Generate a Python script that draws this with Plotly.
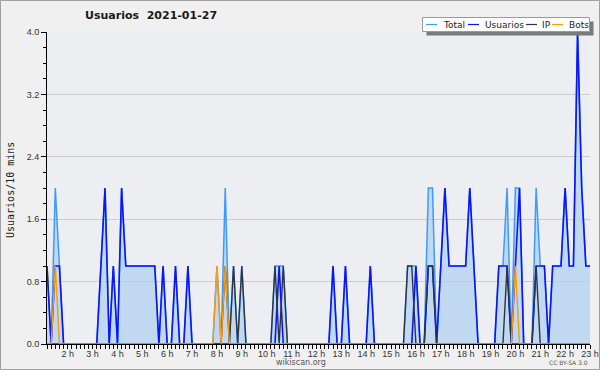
import plotly.graph_objects as go

# 10-minute bins from 01:10 to 23:00 (one row per hour)
start_hour = 1 + 10 / 60
n_bins = 132
hours = [start_hour + i / 6 for i in range(n_bins)]

usuarios = [
    1, 0, 1, 1, 0,          # 01:10-01:50
    0, 0, 0, 0, 0, 0,       # 2 h
    0, 0, 1, 2, 0, 1,       # 3 h
    0, 2, 1, 1, 1, 1,       # 4 h
    1, 1, 1, 1, 0, 1,       # 5 h
    0, 0, 1, 0, 0, 1,       # 6 h
    0, 0, 0, 0, 0, 0,       # 7 h
    0, 0, 0, 0, 0, 0,       # 8 h
    0, 0, 0, 0, 0, 0,       # 9 h
    0, 0, 0, 1, 0, 0,       # 10 h
    0, 0, 0, 0, 0, 0,       # 11 h
    0, 0, 0, 0, 1, 0,       # 12 h
    0, 1, 0, 0, 0, 0,       # 13 h
    0, 1, 0, 0, 0, 0,       # 14 h
    0, 0, 0, 0, 0, 0,       # 15 h
    1, 0, 0, 1, 1, 0,       # 16 h
    1, 2, 1, 1, 1, 1,       # 17 h
    1, 2, 1, 0, 0, 0,       # 18 h
    0, 0, 1, 1, 1, 0,       # 19 h
    1, 2, 0, 0, 0, 1,       # 20 h
    1, 1, 0, 1, 1, 1,       # 21 h
    2, 1, 1, 4, 2, 1,       # 22 h
    1,                      # 23:00
]

ip = [
    0, 0, 0, 0, 0,
    0, 0, 0, 0, 0, 0,
    0, 0, 0, 0, 0, 0,
    0, 0, 0, 0, 0, 0,
    0, 0, 0, 0, 0, 0,
    0, 0, 0, 0, 0, 0,
    0, 0, 0, 0, 0, 0,
    0, 0, 1, 0, 1, 0,       # 8 h
    1, 0, 0, 0, 0, 0,       # 9 h
    0, 0, 1, 0, 1, 0,       # 10 h
    0, 0, 0, 0, 0, 0,
    0, 0, 0, 0, 0, 0,
    0, 0, 0, 0, 0, 0,
    0, 0, 0, 0, 0, 0,
    0, 0, 0, 0, 1, 1,       # 15 h
    0, 0, 0, 1, 1, 0,       # 16 h
    0, 0, 0, 0, 0, 0,
    0, 0, 0, 0, 0, 0,
    0, 0, 0, 0, 1, 0,       # 19 h
    0, 0, 0, 0, 0, 1,       # 20 h
    0, 0, 0, 0, 0, 0,
    0, 0, 0, 0, 0, 0,
    0,
]

bots = [
    0, 0, 1, 0, 0,
    0, 0, 0, 0, 0, 0,
    0, 0, 0, 0, 0, 0,
    0, 0, 0, 0, 0, 0,
    0, 0, 0, 0, 0, 0,
    0, 0, 0, 0, 0, 0,
    0, 0, 0, 0, 0, 0,
    1, 0, 1, 0, 0, 0,       # 8 h
    0, 0, 0, 0, 0, 0,
    0, 0, 0, 0, 0, 0,
    0, 0, 0, 0, 0, 0,
    0, 0, 0, 0, 0, 0,
    0, 0, 0, 0, 0, 0,
    0, 0, 0, 0, 0, 0,
    0, 0, 0, 0, 0, 0,
    0, 0, 0, 0, 0, 0,
    0, 0, 0, 0, 0, 0,
    0, 0, 0, 0, 0, 0,
    0, 0, 0, 0, 0, 0,
    1, 0, 0, 0, 0, 0,       # 20 h
    0, 0, 0, 0, 0, 0,
    0, 0, 0, 0, 0, 0,
    0,
]

total = [u + p + b for u, p, b in zip(usuarios, ip, bots)]

hour_ticks = list(range(2, 24))
hour_labels = [f"{h} h" for h in hour_ticks]
y_ticks = [0.0, 0.8, 1.6, 2.4, 3.2, 4.0]

title_text = "Usuarios  2021-01-27"
y_title = "Usuarios/10 mins"
legend_names = ["Total", "Usuarios", "IP", "Bots"]
colors = ["#3d9bff", "#0a14ff", "#2e3440", "#ff9a0a"]

W, H = 600, 370
L, R, T, B = 47, 590, 32, 344


def px(x):
    return (x - L) / (R - L)


def py(y):
    return (B - y) / (B - T)


fig = go.Figure()
fig.add_trace(go.Scatter(x=hours, y=total, mode="lines", name=legend_names[0],
                         line=dict(color=colors[0], width=1.5),
                         fill="tozeroy", fillcolor="rgba(175,208,240,0.72)"))
fig.add_trace(go.Scatter(x=hours, y=usuarios, mode="lines", name=legend_names[1],
                         line=dict(color=colors[1], width=1.6)))
fig.add_trace(go.Scatter(x=hours, y=ip, mode="lines", name=legend_names[2],
                         line=dict(color=colors[2], width=1.4)))
fig.add_trace(go.Scatter(x=hours, y=bots, mode="lines", name=legend_names[3],
                         line=dict(color=colors[3], width=1.4)))

fig.update_layout(
    width=W, height=H,
    margin=dict(l=L, r=W - R, t=T, b=H - B, pad=0, autoexpand=False),
    paper_bgcolor="#f0f0f0",
    plot_bgcolor="#eceef1",
    showlegend=False,
    font=dict(family="Liberation Sans", size=9, color="#333333"),
)
fig.update_xaxes(
    automargin=False,
    range=[hours[0], hours[-1]],
    tickmode="array", tickvals=hour_ticks, ticktext=hour_labels,
    ticks="outside", ticklen=4, tickwidth=1, tickcolor="black",
    ticklabelstandoff=-3,
    showline=True, linecolor="black", linewidth=1,
    showgrid=False, zeroline=False,
    tickfont=dict(family="Liberation Sans", size=9, color="#333333"),
    minor=dict(tickmode="linear", tick0=0, dtick=1 / 6, ticks="outside",
               ticklen=4, tickcolor="black", showgrid=False),
)
fig.update_yaxes(
    automargin=False,
    range=[0, 4.0],
    tickmode="array", tickvals=y_ticks, ticktext=[f"{v:.1f}" for v in y_ticks],
    ticks="outside", ticklen=5, tickwidth=1, tickcolor="black",
    showline=True, linecolor="black", linewidth=1,
    showgrid=True, gridcolor="#cdcdcd", gridwidth=1, zeroline=False,
    tickfont=dict(family="Liberation Sans", size=9, color="#333333"),
    minor=dict(tickmode="linear", tick0=0, dtick=0.2, ticks="outside",
               ticklen=3, tickcolor="black", showgrid=False),
)

shapes = []
# outer frame
shapes.append(dict(type="rect", xref="paper", yref="paper",
                   x0=px(0.5), x1=px(W - 0.5), y0=py(H - 0.5), y1=py(0.5),
                   line=dict(color="#a0a0a0", width=1), fillcolor="rgba(0,0,0,0)",
                   layer="above"))
# legend shadow + box
shapes.append(dict(type="rect", xref="paper", yref="paper",
                   x0=px(426.5), x1=px(593.5), y0=py(35.5), y1=py(21.5),
                   line=dict(width=0), fillcolor="#7a7a7a", layer="above"))
shapes.append(dict(type="rect", xref="paper", yref="paper",
                   x0=px(422.5), x1=px(589.5), y0=py(31.5), y1=py(17.5),
                   line=dict(color="#9a9a9a", width=1), fillcolor="white",
                   layer="above"))
annotations = []
leg_lines = [(426, 437), (468, 479), (526, 537), (552, 563)]
leg_text_x = [442, 483.5, 541, 567.5]
for (a, b), tx, name, col in zip(leg_lines, leg_text_x, legend_names, colors):
    shapes.append(dict(type="line", xref="paper", yref="paper",
                       x0=px(a), x1=px(b), y0=py(24.5), y1=py(24.5),
                       line=dict(color=col, width=1.2), layer="above"))
    annotations.append(dict(xref="paper", yref="paper", x=px(tx), y=py(24.5),
                            text=name, showarrow=False, xanchor="left", yanchor="middle",
                            borderpad=0,
                            font=dict(family="DejaVu Sans", size=9, color="#222222")))

annotations.append(dict(xref="paper", yref="paper", x=px(151), y=py(16),
                        text=f"<b>{title_text}</b>", showarrow=False,
                        xanchor="center", yanchor="middle",
                        font=dict(family="DejaVu Sans", size=11, color="#1a1a1a")))
annotations.append(dict(xref="paper", yref="paper", x=px(10), y=py(190),
                        text=y_title, showarrow=False, textangle=-90,
                        xanchor="center", yanchor="middle",
                        font=dict(family="DejaVu Sans Mono", size=10, color="#222222")))
annotations.append(dict(xref="paper", yref="paper", x=px(301), y=py(362),
                        text="wikiscan.org", showarrow=False,
                        xanchor="center", yanchor="middle", borderpad=0,
                        font=dict(family="DejaVu Sans", size=8, color="#555555")))
annotations.append(dict(xref="paper", yref="paper", x=px(568), y=py(362.5),
                        text="CC BY-SA 3.0", showarrow=False,
                        xanchor="center", yanchor="middle", borderpad=0,
                        font=dict(family="DejaVu Sans", size=6, color="#555555")))

fig.update_layout(shapes=shapes, annotations=annotations)
fig.write_html("out.html")
